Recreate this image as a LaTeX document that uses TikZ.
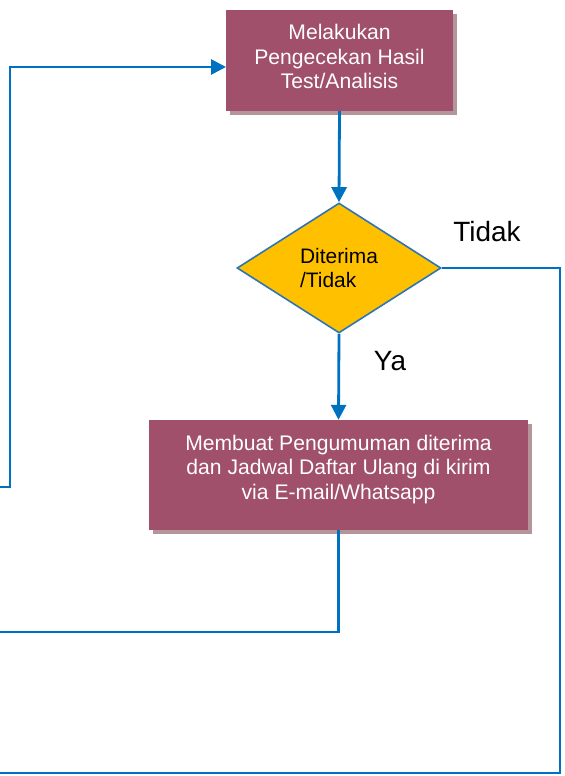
\documentclass[tikz,border=0pt]{standalone}
\usepackage{fontspec}
\setmainfont{Liberation Sans}
\usetikzlibrary{shapes.geometric,arrows.meta,shadows}
\definecolor{boxfill}{RGB}{160,80,106}
\definecolor{shad}{RGB}{180,150,154}
\definecolor{lineblue}{RGB}{0,112,192}
\definecolor{diaborder}{RGB}{46,117,182}
\definecolor{gold}{RGB}{255,192,0}
\begin{document}
\begin{tikzpicture}[x=1bp,y=-1bp,
  procbox/.style={draw=none, fill=boxfill, text=white, align=center, inner sep=0pt,
    font=\fontsize{21.2}{24.5}\selectfont,
    drop shadow={shadow xshift=4bp, shadow yshift=-4bp, fill=shad, opacity=1}},
  decision/.style={diamond, draw=diaborder, line width=1.6bp, fill=gold, inner sep=0pt,
    minimum width=204bp, minimum height=130bp, align=left, font=\fontsize{21}{25}\selectfont},
  conn/.style={draw=lineblue, line width=2.8bp},
  arr/.style={conn, -{Triangle[length=15bp,width=15bp]}},
  lbl/.style={font=\fontsize{28}{30}\selectfont, inner sep=0pt}]
\useasboundingbox (0,0) rectangle (565,776);

\node[procbox, minimum width=227bp, minimum height=101bp] (top) at (339.5,60.5)
  {\raisebox{-4bp}[0pt][0pt]{\begin{tabular}{@{}c@{}}Melakukan\\Pengecekan Hasil\\Test/Analisis\end{tabular}}};
\node[decision] (dia) at (339,268) {Diterima\\/Tidak};
\node[procbox, minimum width=379bp, minimum height=110bp] (bot) at (338.5,475)
  {\raisebox{0bp}[0pt][0pt]{\begin{tabular}{@{}c@{}}Membuat Pengumuman diterima\\dan Jadwal Daftar Ulang di kirim\\via E-mail/Whatsapp\end{tabular}}};

\node[lbl] (tidak) at (487,232) {Tidak};
\node[lbl] (ya) at (390,361) {Ya};

\coordinate (topin) at (226,67);
\coordinate (l1) at (0,487);
\coordinate (l2) at (10,487);
\coordinate (l3) at (10,67);
\coordinate (r1) at (560,268);
\coordinate (r2) at (560,773);
\coordinate (r3) at (0,773);
\coordinate (b1) at (338.5,632);
\coordinate (b2) at (0,632);

\draw[arr] (top.south) -- (dia.north);
\draw[arr] (dia.south) -- (bot.north);
\draw[arr] (l1) -- (l2) -- (l3) -- (topin);
\draw[conn] (dia.east) -- (r1) -- (r2) -- (r3);
\draw[conn] (bot.south) -- (b1) -- (b2);
\end{tikzpicture}
\end{document}
